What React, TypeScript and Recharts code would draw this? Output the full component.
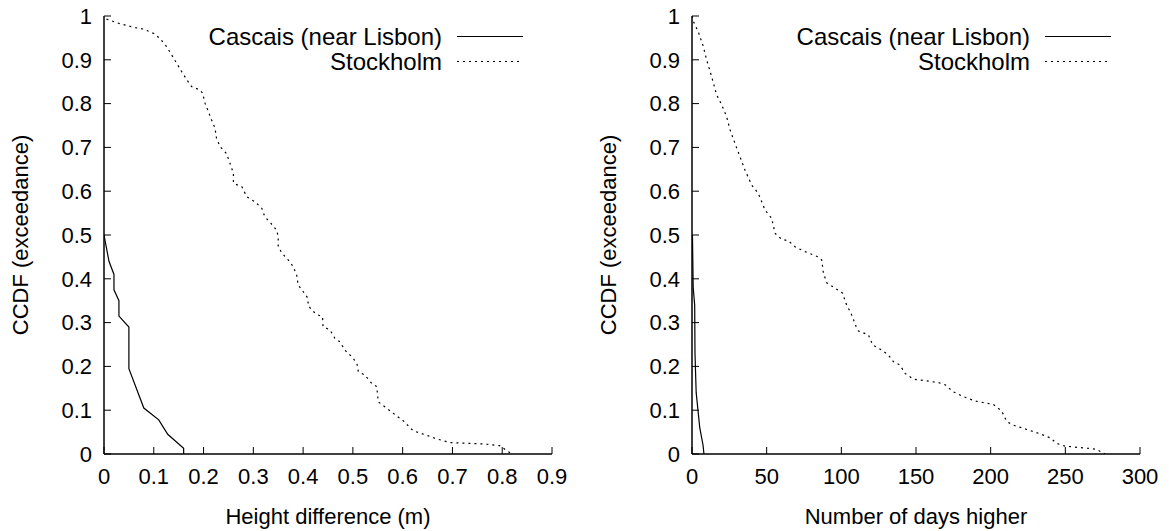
import React from "react"
import { LineChart, Line, XAxis, YAxis, Legend } from "recharts"

const FONT = '"Liberation Sans", Arial, Helvetica, sans-serif'
const FS = 22
const LEGEND_FS = 24

// series names
const seriesNames = ["Cascais (near Lisbon)", "Stockholm"]

// tick labels
const yTicks = [0, 0.1, 0.2, 0.3, 0.4, 0.5, 0.6, 0.7, 0.8, 0.9, 1]
const heightTicks = [0, 0.1, 0.2, 0.3, 0.4, 0.5, 0.6, 0.7, 0.8, 0.9]
const daysTicks = [0, 50, 100, 150, 200, 250, 300]

// left panel: height difference (m) vs CCDF
const heightCascais: [number, number][] = [
  [0, 0.5], [0.01, 0.44], [0.02, 0.41], [0.02, 0.375], [0.03, 0.35], [0.03, 0.315],
  [0.05, 0.29], [0.05, 0.195], [0.08, 0.105], [0.11, 0.078], [0.128, 0.045],
  [0.16, 0.013], [0.16, 0],
]
const heightStockholm: [number, number][] = [
  [0.005, 0.993], [0.03, 0.983], [0.06, 0.974], [0.08, 0.97], [0.1, 0.96], [0.112, 0.949],
  [0.126, 0.93], [0.136, 0.911], [0.146, 0.892], [0.156, 0.873], [0.169, 0.85], [0.176, 0.839],
  [0.193, 0.831], [0.198, 0.824], [0.203, 0.801], [0.21, 0.781], [0.216, 0.763], [0.223, 0.744],
  [0.226, 0.721], [0.233, 0.702], [0.246, 0.686], [0.253, 0.664], [0.26, 0.641], [0.26, 0.618],
  [0.277, 0.61], [0.287, 0.587], [0.303, 0.576], [0.317, 0.561], [0.323, 0.542], [0.335, 0.527],
  [0.347, 0.511], [0.35, 0.496], [0.35, 0.473], [0.358, 0.458], [0.37, 0.443], [0.38, 0.428],
  [0.387, 0.409], [0.39, 0.386], [0.4, 0.371], [0.41, 0.355], [0.41, 0.34], [0.417, 0.329],
  [0.427, 0.319], [0.439, 0.313], [0.44, 0.291], [0.454, 0.283], [0.464, 0.264], [0.474, 0.256],
  [0.484, 0.237], [0.498, 0.222], [0.508, 0.207], [0.511, 0.188], [0.524, 0.18], [0.538, 0.161],
  [0.548, 0.154], [0.551, 0.119], [0.564, 0.108], [0.581, 0.093], [0.601, 0.076], [0.621, 0.053],
  [0.645, 0.044], [0.67, 0.034], [0.695, 0.026], [0.762, 0.023], [0.795, 0.019], [0.819, 0],
]

// right panel: number of days higher vs CCDF
const daysCascais: [number, number][] = [
  [0.3, 0.5], [0.8, 0.38], [1.8, 0.34], [2, 0.23], [2.8, 0.14], [5.2, 0.06], [7.4, 0.02], [8, 0],
]
const daysStockholm: [number, number][] = [
  [0, 1], [1, 0.987], [4.2, 0.964], [7.6, 0.93], [9.8, 0.9], [13.2, 0.861], [16.5, 0.82],
  [19.9, 0.797], [23.2, 0.77], [25.5, 0.74], [28.8, 0.709], [32.1, 0.679], [35.5, 0.648],
  [40, 0.614], [44.4, 0.595], [48.9, 0.557], [53.4, 0.538], [55.6, 0.504], [60.1, 0.49],
  [64.5, 0.487], [69, 0.473], [75.7, 0.462], [84.6, 0.45], [86.9, 0.443], [88, 0.413],
  [90.2, 0.391], [96.9, 0.376], [100.9, 0.367], [103.1, 0.344], [107, 0.317], [109.9, 0.291],
  [111.4, 0.281], [118.1, 0.272], [121, 0.249], [127.1, 0.237], [131.5, 0.226], [134.8, 0.211],
  [139.3, 0.203], [142.7, 0.184], [148.3, 0.171], [157.2, 0.167], [165, 0.163], [169.5, 0.158],
  [175, 0.142], [181.7, 0.131], [189.5, 0.121], [197.4, 0.116], [201.8, 0.113], [207.4, 0.098],
  [210.8, 0.074], [215.2, 0.066], [224.2, 0.056], [233.1, 0.046], [239.8, 0.037], [244.3, 0.024],
  [249.8, 0.018], [270.7, 0.011], [276.6, 0],
]

const toRows = (pts: [number, number][]) => pts.map(([x, y]) => ({ x, y }))

const DASH = "2 4"

function LegendBox() {
  return (
    <div style={{ fontFamily: FONT, fontSize: LEGEND_FS, color: "#000" }}>
      {seriesNames.map((name, i) => (
        <div key={name} style={{ display: "flex", justifyContent: "flex-end", alignItems: "center", height: 25 }}>
          <span style={{ whiteSpace: "nowrap", lineHeight: "25px" }}>{name}</span>
          <svg width={66} height={25} style={{ marginLeft: 15, display: "block" }}>
            <line x1={0} x2={66} y1={12.5} y2={12.5} stroke="#000" strokeWidth={1.2}
              strokeDasharray={i === 1 ? DASH : undefined} />
          </svg>
        </div>
      ))}
    </div>
  )
}

const xTitle = (text: string) => (props: any) => {
  const vb = props.viewBox
  return (
    <text x={vb.x + vb.width / 2} y={vb.y + vb.height - 7} textAnchor="middle"
      fontFamily={FONT} fontSize={FS} fill="#000">{text}</text>
  )
}

const yTitle = (text: string) => (props: any) => {
  const vb = props.viewBox
  const cx = vb.x + 20
  const cy = vb.y + vb.height / 2
  return (
    <text x={cx} y={cy} transform={`rotate(-90 ${cx} ${cy})`} textAnchor="middle" dominantBaseline="central"
      fontFamily={FONT} fontSize={FS} fill="#000">{text}</text>
  )
}

interface PanelProps {
  left: number
  width: number
  right: number
  xMax: number
  xTicks: number[]
  xLabel: string
  cascais: [number, number][]
  stockholm: [number, number][]
}

function Panel({ left, width, right, xMax, xTicks, xLabel, cascais, stockholm }: PanelProps) {
  const axisLine = { stroke: "#000", strokeWidth: 1.5 }
  const tickLine = { stroke: "#000", strokeWidth: 1 }
  const tick = { fill: "#000", fontSize: FS, fontFamily: FONT }
  return (
    <div style={{ position: "absolute", left, top: 0 }}>
      <LineChart width={width} height={531} margin={{ top: 16, right, left: 0, bottom: 0 }}>
        <XAxis type="number" dataKey="x" domain={[0, xMax]} ticks={xTicks} interval={0} allowDataOverflow
          height={77} tickSize={-7} tickMargin={21} axisLine={axisLine} tickLine={tickLine} tick={tick}
          label={{ content: xTitle(xLabel) }} />
        <XAxis xAxisId="top" orientation="top" type="number" domain={[0, xMax]} ticks={xTicks} interval={0}
          height={0} tickSize={-7} axisLine={axisLine} tickLine={tickLine} tick={false} />
        <YAxis type="number" domain={[0, 1]} ticks={yTicks} interval={0} allowDataOverflow
          width={104} tickSize={-7} tickMargin={19} axisLine={axisLine} tickLine={tickLine} tick={tick}
          label={{ content: yTitle("CCDF (exceedance)") }} />
        <YAxis yAxisId="right" orientation="right" type="number" domain={[0, 1]} ticks={yTicks} interval={0}
          width={0} tickSize={-7} axisLine={axisLine} tickLine={tickLine} tick={false} />
        <Legend layout="vertical" align="center" verticalAlign="middle"
          wrapperStyle={{ left: 100, top: 24, width: 423, height: 52 }}
          content={() => <LegendBox />} />
        <Line data={toRows(cascais)} dataKey="y" name={seriesNames[0]} type="linear" stroke="#000"
          strokeWidth={1.2} dot={false} activeDot={false} isAnimationActive={false} />
        <Line data={toRows(stockholm)} dataKey="y" name={seriesNames[1]} type="linear" stroke="#000"
          strokeWidth={1.2} strokeDasharray={DASH} dot={false} activeDot={false} isAnimationActive={false} />
      </LineChart>
    </div>
  )
}

export default function App() {
  return (
    <div style={{ position: "absolute", left: 0, top: 0, width: 1169, height: 531, background: "#fff", overflow: "hidden" }}>
      <Panel left={0} width={584} right={32} xMax={0.9} xTicks={heightTicks} xLabel="Height difference (m)"
        cascais={heightCascais} stockholm={heightStockholm} />
      <Panel left={588} width={581} right={29} xMax={300} xTicks={daysTicks} xLabel="Number of days higher"
        cascais={daysCascais} stockholm={daysStockholm} />
    </div>
  )
}
